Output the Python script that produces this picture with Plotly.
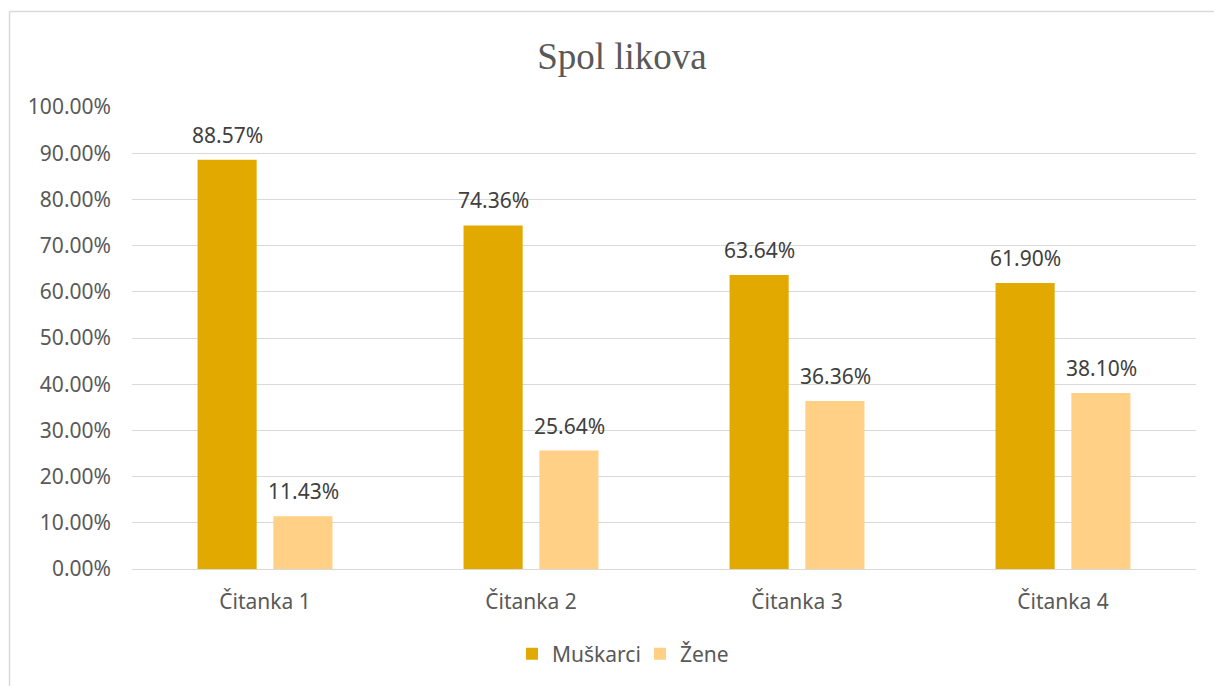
import plotly.graph_objects as go

categories = ["Čitanka 1", "Čitanka 2", "Čitanka 3", "Čitanka 4"]
muskarci = [88.57, 74.36, 63.64, 61.90]
zene = [11.43, 25.64, 36.36, 38.10]
tick_vals = [0, 10, 20, 30, 40, 50, 60, 70, 80, 90, 100]
tick_text = [f"{v:.2f}%" for v in tick_vals]

W, H = 1214, 686
L, R, T, B = 132, 18, 107, 117
pw, ph = W - L - R, H - T - B

def px_x(x):
    return (x - L) / pw

def px_y(y):
    return (H - B - y) / ph

font = "Noto Sans, Open Sans, sans-serif"
txt = "#595959"
lbl = "#404040"
FS = 21

fig = go.Figure()
fig.add_trace(go.Bar(
    name="Muškarci", x=categories, y=muskarci,
    marker=dict(color="#E2AA00", line=dict(width=0)),
))
fig.add_trace(go.Bar(
    name="Žene", x=categories, y=zene,
    marker=dict(color="#FFD086", line=dict(width=0)),
))

annotations = []
for series, shift in ((muskarci, -38), (zene, 38)):
    for c, v in zip(categories, series):
        annotations.append(dict(x=c, y=v, xref="x", yref="y", text=f"{v:.2f}%", showarrow=False,
                                xshift=shift, yshift=25, yanchor="middle", xanchor="center",
                                font=dict(family=font, size=FS, color=lbl)))

border = dict(color="#D9D9D9", width=1.5)
fig.update_layout(
    width=W, height=H,
    margin=dict(l=L, r=R, t=T, b=B),
    paper_bgcolor="white", plot_bgcolor="white",
    barmode="group", bargap=0.43, bargroupgap=0.22,
    title=dict(text="Spol likova", x=622 / W, xref="container", y=1 - 56 / H, yref="container",
               yanchor="middle", xanchor="center",
               font=dict(family="Liberation Serif, Times New Roman, serif", size=37, color=txt)),
    showlegend=True,
    legend=dict(orientation="h", x=640 / W, xref="container", xanchor="center", y=1 - 654 / H, yref="container",
                yanchor="middle", font=dict(family=font, size=FS, color=txt),
                traceorder="normal", entrywidth=83, entrywidthmode="pixels"),
    annotations=annotations,
    shapes=[
        dict(type="line", xref="paper", yref="paper", x0=px_x(9.5), x1=px_x(1250), y0=px_y(11.5), y1=px_y(11.5),
             line=border, layer="below"),
        dict(type="line", xref="paper", yref="paper", x0=px_x(9.5), x1=px_x(9.5), y0=px_y(11.5), y1=px_y(720),
             line=border, layer="below"),
    ],
)
fig.update_xaxes(showgrid=False, showline=False, ticks="", tickfont=dict(family=font, size=FS, color=txt),
                 ticklabelstandoff=18)
fig.update_yaxes(range=[0, 100], tickvals=tick_vals, ticktext=tick_text, showgrid=True,
                 gridcolor="#D9D9D9", gridwidth=1.3, zeroline=True, zerolinecolor="#D9D9D9", zerolinewidth=1.3,
                 showline=False, ticks="", tickfont=dict(family=font, size=FS, color=txt),
                 ticklabelstandoff=20)

post = ("document.documentElement.style.overflow='hidden';"
        "document.body.style.overflow='hidden';"
        "document.body.style.margin='0';")
fig.write_html("out.html", config={"displayModeBar": False}, post_script=post)
